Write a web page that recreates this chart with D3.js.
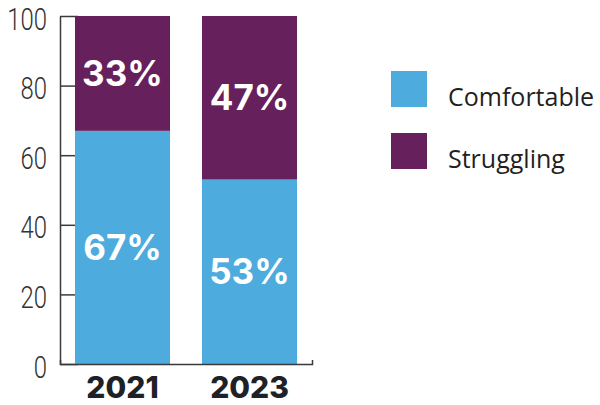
<!DOCTYPE html>
<html>
<head>
<meta charset="utf-8">
<script src="https://cdn.jsdelivr.net/npm/d3@7"></script>
<style>
  html, body { margin: 0; padding: 0; background: #fff; }
  svg { display: block; }
</style>
</head>
<body>
<svg id="chart" width="600" height="405"></svg>
<script>
// Survey years and the share of respondents in each group (percent)
const years = ["2021", "2023"];
const comfortable = [67, 53];
const struggling = [33, 47];
const seriesNames = ["Comfortable", "Struggling"];
const seriesColors = ["#4dabdd", "#66205c"];
const yTicks = [0, 20, 40, 60, 80, 100];

const svg = d3.select("#chart");

const y = d3.scaleLinear().domain([0, 100]).range([364, 16]);
const x = d3.scaleBand().domain(years).range([60, 312])
  .paddingInner(0.252).paddingOuter(0.118);

const axisColor = "#3a3a3a";

// Stack the two series per year
const rows = years.map((yr, i) => ({ year: yr, Comfortable: comfortable[i], Struggling: struggling[i] }));
const stacked = d3.stack().keys(seriesNames)(rows);

// Y axis: ticks point inward, light condensed labels
const yAxis = svg.append("g")
  .attr("transform", "translate(60,0)")
  .call(d3.axisLeft(y).tickValues(yTicks).tickSize(-18).tickSizeOuter(0).tickPadding(13));
yAxis.select(".domain").attr("stroke", axisColor).attr("stroke-width", 1.5);
yAxis.selectAll(".tick line").attr("stroke", axisColor).attr("stroke-width", 1.5);
yAxis.selectAll(".tick text")
  .attr("fill", "#333")
  .attr("font-family", "Roboto, sans-serif")
  .attr("font-weight", 300)
  .attr("font-size", 31)
  .attr("x", -13 / 0.77)
  .attr("dy", "0.42em")
  .attr("transform", "scale(0.77,1)");

// Bars
const layer = svg.append("g").selectAll("g")
  .data(stacked)
  .join("g")
  .attr("fill", (d, i) => seriesColors[i]);

layer.selectAll("rect")
  .data(d => d)
  .join("rect")
  .attr("x", d => x(d.data.year))
  .attr("width", x.bandwidth())
  .attr("y", d => y(d[1]))
  .attr("height", d => y(d[0]) - y(d[1]));

// Value labels inside each segment
layer.selectAll("text")
  .data(d => d.map(p => ({ p, key: d.key })))
  .join("text")
  .attr("x", d => x(d.p.data.year) + x.bandwidth() / 2)
  .attr("y", d => (y(d.p[0]) + y(d.p[1])) / 2)
  .attr("dy", "0.36em")
  .attr("text-anchor", "middle")
  .attr("fill", "#fff")
  .attr("font-family", "Inter, sans-serif")
  .attr("font-weight", 700)
  .attr("font-size", 35)
  .text(d => `${d.p.data[d.key]}%`);

// X axis: baseline with a small upward end tick, bold year labels
const xAxis = svg.append("g")
  .attr("transform", "translate(0,364)")
  .call(d3.axisBottom(x).tickSize(0).tickSizeOuter(-4).tickPadding(0));
xAxis.select(".domain").attr("stroke", axisColor).attr("stroke-width", 1.5);
xAxis.selectAll(".tick text")
  .attr("fill", "#1e2126")
  .attr("font-family", "Inter, sans-serif")
  .attr("font-weight", 800)
  .attr("font-size", 30)
  .attr("y", 34)
  .attr("dy", 0);

// Legend
const legend = svg.append("g").selectAll("g")
  .data(seriesNames)
  .join("g")
  .attr("transform", (d, i) => `translate(391,${71 + i * 62})`);
legend.append("rect")
  .attr("width", 36).attr("height", 36)
  .attr("fill", (d, i) => seriesColors[i]);
legend.append("text")
  .attr("x", 57).attr("y", 35)
  .attr("fill", "#231f20")
  .attr("font-family", "'Open Sans', sans-serif")
  .attr("font-weight", 500)
  .attr("font-size", 25)
  .text(d => d);
</script>
</body>
</html>
